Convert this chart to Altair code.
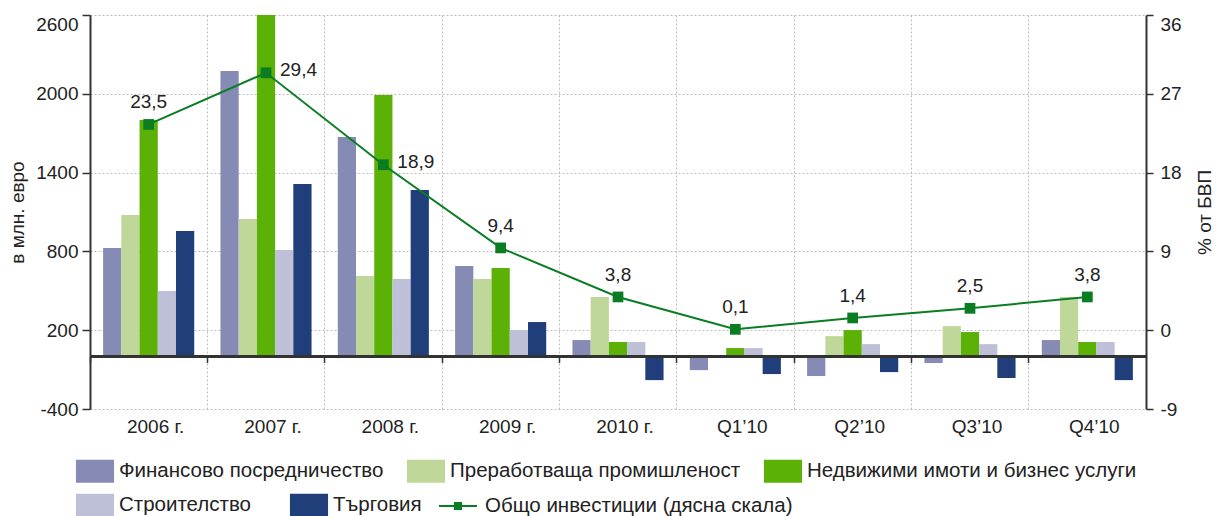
import altair as alt
import pandas as pd

# ---------------- data ----------------
categories = ["2006 г.", "2007 г.", "2008 г.", "2009 г.", "2010 г.",
              "Q1’10", "Q2’10", "Q3’10", "Q4’10"]
series = ["Финансово посредничество", "Преработваща промишленост",
          "Недвижими имоти и бизнес услуги", "Строителство", "Търговия"]
series_colors = ["#858BB4", "#BFD89A", "#5CB106", "#BEC0D8", "#1F3E7A"]

finance = [825, 2174, 1671, 688, 125, -104, -149, -50, 125]
manufacturing = [1077, 1046, 612, 589, 452, 0, 155, 231, 452]
real_estate = [1800, 2600, 1990, 673, 110, 64, 201, 186, 110]
construction = [498, 810, 589, 201, 110, 64, 94, 94, 110]
trade = [955, 1313, 1267, 262, -180, -134, -119, -164, -180]

line_name = "Общо инвестиции (дясна скала)"
total_pct = [23.5, 29.4, 18.9, 9.4, 3.8, 0.1, 1.4, 2.5, 3.8]
right_labelled = ["2007 г.", "2008 г."]

left_ticks = [2600, 2000, 1400, 800, 200, -400]
right_ticks = [36, 27, 18, 9, 0, -9]

# ---------------- tables ----------------
rows = []
for i, c in enumerate(categories):
    for s, vals in zip(series, [finance, manufacturing, real_estate, construction, trade]):
        rows.append({"cat": c, "series": s, "value": vals[i]})
bars_df = pd.DataFrame(rows)
line_df = pd.DataFrame({"cat": categories, "pct": total_pct,
                        "series": [line_name] * len(categories)})

# ---------------- style ----------------
FONT = "Liberation Sans"
TXT = "#222222"
AX = "#333333"
GRID = "#BDBDBD"
LINE_COLOR = "#0A7D23"
W, H = 1056, 394
left_dom = [-400, 2600]
right_dom = [-9, 36]
zero_offset = -H * (0 - left_dom[0]) / (left_dom[1] - left_dom[0])

RECT_PATH = "M-1.12,-0.68H1.12V0.68H-1.12Z"
LINE_PATH = ("M-1.12,0H1.12M-0.24,-0.18H0.24M-0.24,-0.06H0.24"
             "M-0.24,0.06H0.24M-0.24,0.18H0.24")
MINUS_EXPR = "datum.value < 0 ? '-' + abs(datum.value) : '' + datum.value"

x_axis = alt.Axis(
    title=None, offset=zero_offset, bandPosition=0,
    grid=True, gridDash=[2, 2], gridColor=GRID, gridWidth=1,
    domainColor=AX, domainWidth=2, tickColor=AX, tickWidth=1.5, tickSize=6,
    labelPadding=55, labelAngle=0, labelFontSize=19, labelColor=TXT,
    labelOffset=7, labelFont=FONT,
)
x_scale = alt.Scale(domain=categories, paddingInner=0, paddingOuter=0)
x_main = alt.X("cat:N", sort=categories, scale=x_scale, axis=x_axis)
x_plain = alt.X("cat:N", sort=categories, scale=x_scale, axis=x_axis)

left_scale = alt.Scale(domain=left_dom, nice=False, zero=False)
right_scale = alt.Scale(domain=right_dom, nice=False, zero=False)
xoff = alt.XOffset("series:N", sort=series,
                   scale=alt.Scale(domain=series, paddingInner=0, paddingOuter=0.72))

legend_common = dict(title=None, orient="none", direction="horizontal",
                     symbolSize=1156, labelFontSize=20.5, labelFont=FONT,
                     labelColor=TXT, labelLimit=0)

bars1 = alt.Chart(bars_df).transform_filter(
    alt.FieldOneOfPredicate(field="series", oneOf=series[:3])
).mark_bar().encode(
    x=x_main,
    xOffset=xoff,
    y=alt.Y("value:Q", scale=left_scale,
            axis=alt.Axis(values=left_ticks, title="в млн. евро", labelExpr=MINUS_EXPR,
                          grid=True, gridDash=[2, 2], gridColor=GRID, gridWidth=1,
                          domainColor=AX, domainWidth=2, tickColor=AX, tickWidth=1.5,
                          tickSize=8, labelPadding=4, labelFontSize=19, labelColor=TXT,
                          labelBaseline={"condition": {"test": "datum.value == 2600", "value": "top"},
                                         "value": "middle"},
                          labelFont=FONT, titleFont=FONT, titleFontSize=19,
                          titleFontWeight="normal", titleColor=TXT, titlePadding=8)),
    color=alt.Color("series:N", sort=series[:3],
                    scale=alt.Scale(domain=series[:3], range=series_colors[:3]),
                    legend=alt.Legend(legendX=-12, legendY=439, symbolType=RECT_PATH,
                                      symbolStrokeWidth=0, labelOffset=7, columnPadding=22,
                                      **legend_common)),
)

bars2 = alt.Chart(bars_df).transform_filter(
    alt.FieldOneOfPredicate(field="series", oneOf=series[3:])
).mark_bar().encode(
    x=x_plain,
    xOffset=xoff,
    y=alt.Y("value:Q", scale=left_scale, axis=None),
    fill=alt.Fill("series:N", sort=series[3:],
                  scale=alt.Scale(domain=series[3:], range=series_colors[3:]),
                  legend=alt.Legend(legendX=-12, legendY=473, symbolType=RECT_PATH,
                                    symbolStrokeWidth=0, labelOffset=7, columnPadding=38,
                                    **legend_common)),
)

zero_rule = alt.Chart(line_df).mark_rule(color=AX, strokeWidth=2).encode(
    y=alt.YDatum(0, scale=left_scale, axis=None)
)

line = alt.Chart(line_df).mark_line(strokeWidth=2).encode(
    x=x_plain,
    y=alt.Y("pct:Q", scale=right_scale,
            axis=alt.Axis(orient="right", values=right_ticks, title="% от БВП",
                          labelExpr=MINUS_EXPR,
                          grid=False, domainColor=AX, domainWidth=2, tickColor=AX,
                          tickWidth=1.5, tickSize=7, labelPadding=7, labelFontSize=19,
                          labelColor=TXT, labelFont=FONT,
                          labelBaseline={"condition": {"test": "datum.value == 36", "value": "top"},
                                         "value": "middle"},
                          titleFont=FONT, titleFontSize=19, titleFontWeight="normal",
                          titleColor=TXT, titleAngle=270, titleBaseline="top",
                          titlePadding=14)),
    stroke=alt.Stroke("series:N",
                      scale=alt.Scale(domain=[line_name], range=[LINE_COLOR]),
                      legend=alt.Legend(legendX=350, legendY=473, symbolType=LINE_PATH,
                                        symbolStrokeWidth=2, symbolStrokeColor=LINE_COLOR,
                                        labelOffset=9, **legend_common)),
)

points = alt.Chart(line_df).mark_square(size=115, color=LINE_COLOR, opacity=1).encode(
    x=x_plain, y=alt.Y("pct:Q", scale=right_scale, axis=None)
)

lbl_base = alt.Chart(line_df).transform_calculate(
    lbl="replace(format(datum.pct, '.1f'), '.', ',')"
)
labels_above = lbl_base.transform_filter(
    alt.FieldOneOfPredicate(field="cat", oneOf=[c for c in categories if c not in right_labelled])
).mark_text(dy=-22, fontSize=19, font=FONT, color=TXT).encode(
    x=x_plain, y=alt.Y("pct:Q", scale=right_scale, axis=None), text="lbl:N",
)
labels_right = lbl_base.transform_filter(
    alt.FieldOneOfPredicate(field="cat", oneOf=right_labelled)
).mark_text(dx=14, dy=-3, align="left", fontSize=19, font=FONT, color=TXT).encode(
    x=x_plain, y=alt.Y("pct:Q", scale=right_scale, axis=None), text="lbl:N",
)

chart = alt.layer(bars1, bars2, zero_rule, line, points, labels_above, labels_right).resolve_scale(
    y="independent"
).properties(
    width=W, height=H,
    autosize=alt.AutoSizeParams(type="none"),
    padding={"left": 82, "top": 7, "right": 71, "bottom": 120},
).configure(font=FONT).configure_view(stroke=None)

chart.save("out.html", embed_options={"renderer": "svg", "actions": False})
